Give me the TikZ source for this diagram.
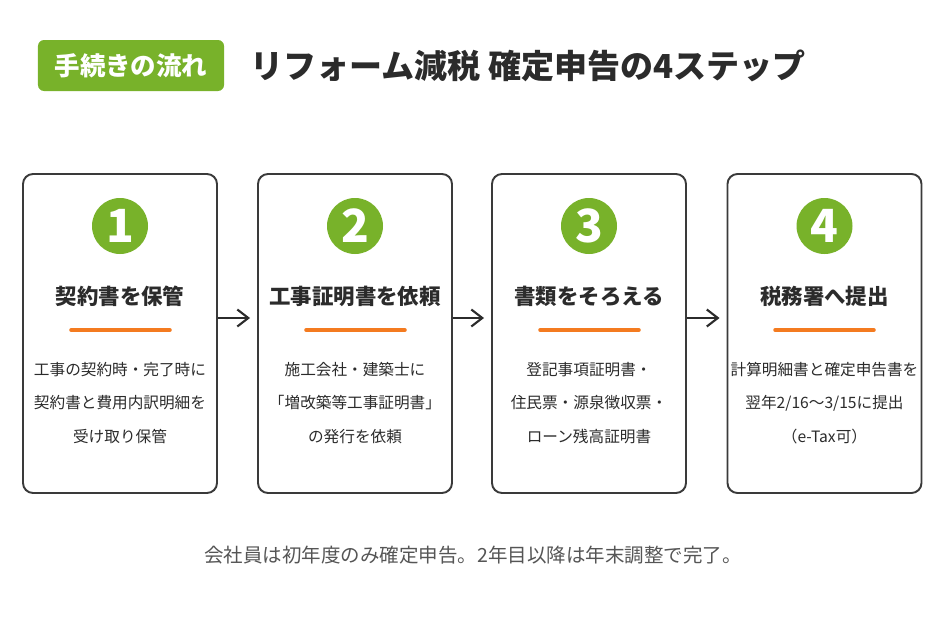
\documentclass[tikz,border=0pt]{standalone}
\usepackage{fontspec}
\setmainfont{Noto Sans CJK JP}
\usepackage{xcolor}
\usetikzlibrary{arrows.meta, positioning}

\definecolor{stepgreen}{HTML}{78B22A}
\definecolor{steporange}{HTML}{F47B20}
\definecolor{inkgray}{HTML}{2B2B2B}
\definecolor{boxgray}{HTML}{3A3A3A}
\definecolor{notegray}{HTML}{555555}

\begin{document}
\begin{tikzpicture}[
    x=0.2mm, y=-0.2mm,
    stepbox/.style={draw=boxgray, line width=1.1pt, rounded corners=2mm,
                    fill=white, minimum width=38.8mm, minimum height=63.8mm},
    stepnum/.style={circle, fill=stepgreen, text=white, inner sep=0pt,
                    minimum size=11.2mm, font=\bfseries\fontsize{26}{26}\selectfont},
    stephead/.style={font=\bfseries\fontsize{12.2}{14}\selectfont, text=inkgray},
    steptext/.style={align=center, font=\fontsize{8.9}{18.9}\selectfont, text=inkgray},
    orangebar/.style={draw=steporange, line width=2pt, line cap=round},
    flow/.style={-{Straight Barb[length=2.2mm, width=3.4mm]}, line width=1.2pt,
                 draw=inkgray, shorten >=1.4mm},
]
\useasboundingbox (0,0) rectangle (945,630);

% header
\node[fill=stepgreen, rounded corners=1.2mm, minimum width=37.2mm, minimum height=10.2mm,
      text=white, font=\bfseries\fontsize{14.5}{16}\selectfont] (badge) at (131,65.5) {手続きの流れ};
\node[anchor=west, text=inkgray, font=\bfseries\fontsize{18.8}{20}\selectfont] (title) at (244,66)
   {リフォーム減税 確定申告の4ステップ};

% the four steps
\node[stepbox] (keep) at (120,333.5) {};
\node[stepbox] (cert) at (355,333.5) {};
\node[stepbox] (docs) at (589,333.5) {};
\node[stepbox] (file) at (824.5,333.5) {};

\node[stepnum] (n1) at (120,226) {1};
\node[stepnum] (n2) at (355,226) {2};
\node[stepnum] (n3) at (589,226) {3};
\node[stepnum] (n4) at (824.5,226) {4};

\node[stephead] (h1) at (120,296) {契約書を保管};
\node[stephead] (h2) at (355,296) {工事証明書を依頼};
\node[stephead] (h3) at (589,296) {書類をそろえる};
\node[stephead] (h4) at (824.5,296) {税務署へ提出};

\draw[orangebar] (71,330) -- (170,330);
\draw[orangebar] (306,330) -- (405,330);
\draw[orangebar] (540,330) -- (639,330);
\draw[orangebar] (775,330) -- (874,330);

\node[steptext] (t1) at (120,403) {工事の契約時・完了時に\\契約書と費用内訳明細を\\受け取り保管};
\node[steptext] (t2) at (355,403) {施工会社・建築士に\\「増改築等工事証明書」\\の発行を依頼};
\node[steptext] (t3) at (589,403) {登記事項証明書・\\住民票・源泉徴収票・\\ローン残高証明書};
\node[steptext] (t4) at (824.5,403) {計算明細書と確定申告書を\\翌年2/16〜3/15に提出\\（e-Tax可）};

\draw[flow] ([yshift=3.1mm]keep.east) -- ([yshift=3.1mm]cert.west);
\draw[flow] ([yshift=3.1mm]cert.east) -- ([yshift=3.1mm]docs.west);
\draw[flow] ([yshift=3.1mm]docs.east) -- ([yshift=3.1mm]file.west);

% note below
\node[text=notegray, font=\fontsize{11.1}{12}\selectfont] (note) at (473,555)
   {会社員は初年度のみ確定申告。2年目以降は年末調整で完了。};
\end{tikzpicture}
\end{document}
